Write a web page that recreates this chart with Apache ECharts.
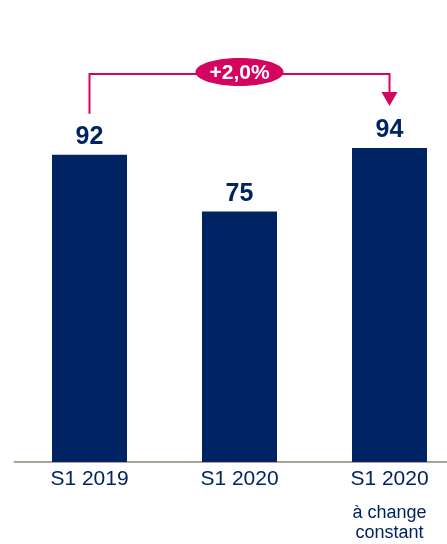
<!DOCTYPE html>
<html>
<head>
<meta charset="utf-8">
<script src="https://cdn.jsdelivr.net/npm/echarts@6/dist/echarts.min.js"></script>
<style>
html,body{margin:0;padding:0;background:#fff;}
#c{width:447px;height:544px;}
</style>
</head>
<body>
<div id="c"></div>
<script>
var categories = ['S1 2019', 'S1 2020', 'S1 2020'];
var subLabels = ['', '', 'à change\nconstant'];
var values = [92, 75, 94];
var growthLabel = '+2,0%';

var NAVY = '#002463';
var MAGENTA = '#d4045f';
var FONT = 'Arial, "Liberation Sans", sans-serif';

var chart = echarts.init(document.getElementById('c'), null, {renderer: 'canvas'});

chart.setOption({
  animation: false,
  backgroundColor: '#fff',
  grid: {left: 14.5, right: -17.5, top: 128, bottom: 82, containLabel: false, outerBoundsMode: 'none'},
  xAxis: {
    type: 'category',
    data: categories.map(function (c, i) { return c + '|' + i; }),
    axisLine: {show: true, lineStyle: {color: '#aca49b', width: 2}},
    axisTick: {show: false},
    axisLabel: {
      margin: 7,
      interval: 0,
      formatter: function (v) {
        var idx = +v.split('|')[1];
        var name = v.split('|')[0];
        var s = '{m|' + name + '}';
        if (subLabels[idx]) {
          s += '\n{gap| }\n' + subLabels[idx].split('\n').map(function (t) { return '{sub|' + t + '}'; }).join('\n');
        }
        return s;
      },
      rich: {
        m: {fontSize: 21, lineHeight: 20, color: NAVY, fontFamily: FONT},
        gap: {fontSize: 1, lineHeight: 14},
        sub: {fontSize: 18, lineHeight: 20, color: NAVY, fontFamily: FONT}
      }
    }
  },
  yAxis: {
    type: 'value', min: 0, max: 100,
    show: false, splitLine: {show: false}
  },
  series: [{
    type: 'bar',
    data: values,
    barWidth: 75,
    itemStyle: {color: NAVY},
    label: {
      show: true, position: 'top', distance: 5,
      color: NAVY, fontSize: 25, fontWeight: 'bold', fontFamily: FONT
    }
  }]
});

function px(i, v) { return chart.convertToPixel({gridIndex: 0}, [i, v]); }
var pStart = px(0, values[0]);
var pEnd = px(2, values[2]);
var bracketY = pEnd[1] - 74;
var startY = pStart[1] - 41;
var tipY = pEnd[1] - 42;
var headH = 14, headW = 8;
var midX = (pStart[0] + pEnd[0]) / 2;

chart.setOption({
  graphic: [
    {type: 'polyline', shape: {points: [[pStart[0], startY], [pStart[0], bracketY], [pEnd[0], bracketY], [pEnd[0], tipY - headH + 1]]},
      style: {stroke: MAGENTA, lineWidth: 2, fill: null}, z: 10},
    {type: 'polygon', shape: {points: [[pEnd[0] - headW, tipY - headH], [pEnd[0] + headW, tipY - headH], [pEnd[0], tipY]]},
      style: {fill: MAGENTA}, z: 10},
    {type: 'ellipse', shape: {cx: midX, cy: bracketY - 2, rx: 44, ry: 14},
      style: {fill: MAGENTA}, z: 11},
    {type: 'text', x: midX, y: bracketY - 1,
      style: {text: growthLabel, fill: '#fff', fontSize: 21, fontWeight: 'bold', fontFamily: FONT, align: 'center', verticalAlign: 'middle'}, z: 12}
  ]
});
</script>
</body>
</html>
